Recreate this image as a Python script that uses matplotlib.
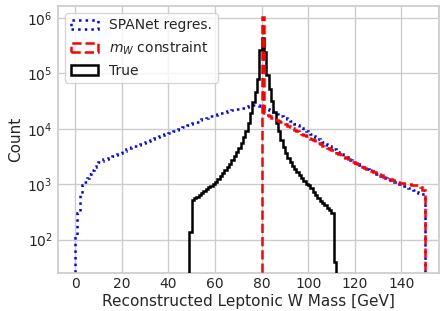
import matplotlib
matplotlib.use("Agg")
import matplotlib.pyplot as plt
import numpy as np
import seaborn as sns

# per-bin counts, 1 GeV bins
spanet_edges = np.arange(0, 151)
spanet_counts = [
    120, 300, 650, 950, 1100, 1300, 1550, 1800, 2050, 2300,
    2500, 2650, 2800, 2900, 3000, 3150, 3300, 3400, 3550, 3700,
    3900, 4050, 4250, 4450, 4650, 4800, 5000, 5200, 5400, 5650,
    5900, 6100, 6300, 6500, 6700, 7000, 7300, 7600, 7900, 8200,
    8500, 8800, 9100, 9500, 9800, 10200, 10600, 11000, 11500, 12000,
    12500, 13000, 13500, 14200, 14800, 15300, 15800, 16300, 16800, 17400,
    18000, 18600, 19100, 19600, 20100, 20600, 21000, 21500, 22000, 22500,
    23000, 23500, 24200, 25000, 25800, 26500, 27000, 27000, 26500, 26000,
    25000, 24000, 23000, 21800, 20800, 19800, 18800, 17800, 17000, 16400,
    15800, 15000, 14100, 13200, 12300, 11600, 11000, 10200, 9500, 9000,
    8500, 7900, 7400, 7000, 6600, 6200, 5800, 5400, 5100, 4800,
    4500, 4250, 4000, 3750, 3500, 3300, 3100, 2900, 2750, 2600,
    2450, 2320, 2200, 2070, 1950, 1860, 1780, 1700, 1620, 1550,
    1480, 1410, 1350, 1290, 1230, 1190, 1150, 1100, 1050, 1000,
    960, 920, 890, 850, 810, 775, 740, 710, 680, 660,
]

mw_edges = np.arange(80, 151)
mw_counts = [
    1050000,
    19000, 17800, 16800, 16000, 15300, 14600, 14000, 13300, 12700,
    12000, 11400, 10800, 10200, 9700, 9100, 8600, 8100, 7700, 7300,
    6900, 6500, 6200, 5900, 5600, 5300, 5000, 4750, 4500, 4300,
    4100, 3900, 3700, 3500, 3300, 3150, 3000, 2850, 2700, 2570,
    2450, 2320, 2200, 2090, 1980, 1890, 1800, 1720, 1650, 1570,
    1500, 1440, 1380, 1320, 1270, 1220, 1180, 1140, 1100, 1070,
    1040, 1020, 1000, 990, 980, 970, 960, 930, 880, 800,
]

true_edges = np.arange(49, 113)
true_counts = [
    135,
    520, 560, 600, 650, 700, 760, 820, 880, 940, 1020,
    1120, 1250, 1400, 1580, 1800, 2050, 2350, 2750, 3250, 3800,
    4500, 5500, 7000, 9000, 12500, 19000, 30000, 46000, 80000, 260000,
    430000, 240000, 95000, 52000, 32000, 20000, 13000, 9000, 6300, 4700,
    3700, 3000, 2500, 2100, 1850, 1650, 1450, 1300, 1150, 1030,
    950, 850, 740, 640, 560, 500, 460, 420, 380, 350,
    300, 40,
]

sns.set_theme(style="whitegrid")

fig, ax = plt.subplots(figsize=(4.4, 3.11), dpi=100)
fig.subplots_adjust(left=0.132, right=0.998, bottom=0.122, top=0.981)

ax.hist(spanet_edges[:-1], bins=spanet_edges, weights=spanet_counts, histtype="step",
        color="blue", linestyle=":", linewidth=1.8, label="SPANet regres.", zorder=2)
ax.hist(mw_edges[:-1], bins=mw_edges, weights=mw_counts, histtype="step",
        color="red", linestyle="--", linewidth=1.8, label="$m_W$ constraint", zorder=4)
ax.hist(true_edges[:-1], bins=true_edges, weights=true_counts, histtype="step",
        color="black", linewidth=1.8, label="True", zorder=3)

ax.set_yscale("log")
ax.set_xlim(-7.3, 156.2)
ax.set_ylim(25, 1.65e6)
ax.set_xticks([0, 20, 40, 60, 80, 100, 120, 140])
ax.set_xlabel("Reconstructed Leptonic W Mass [GeV]", fontsize=11, labelpad=2)
ax.set_ylabel("Count", fontsize=11, labelpad=3)
ax.tick_params(axis="both", which="both", length=0)
ax.tick_params(axis="x", labelsize=10, pad=3)
ax.tick_params(axis="y", labelsize=10, pad=4)
ax.legend(loc="upper left", fontsize=10)

plt.savefig("out.png")
plt.close()
